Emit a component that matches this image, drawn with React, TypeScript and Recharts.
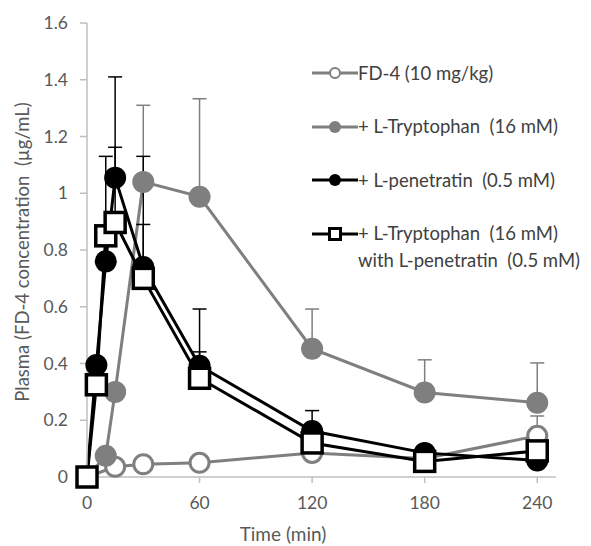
import React from "react";
import { LineChart, Line, XAxis, YAxis, ErrorBar, Label } from "recharts";

// sampling times (min) and plasma FD-4 concentration (µg/mL)
const fd4Time = [0, 15, 30, 60, 120, 180, 240];
const fd4Mean = [0, 0.036, 0.045, 0.05, 0.085, 0.065, 0.145];
const fd4Sd = [0, 0, 0, 0, 0, 0, 0.07];

const trpTime = [0, 10, 15, 30, 60, 120, 180, 240];
const trpMean = [0, 0.075, 0.3, 1.04, 0.988, 0.452, 0.298, 0.262];
const trpSd = [0, 0, 0, 0.27, 0.345, 0.14, 0.115, 0.14];

const penTime = [0, 5, 10, 15, 30, 60, 120, 180, 240];
const penMean = [0, 0.395, 0.76, 1.055, 0.74, 0.392, 0.162, 0.085, 0.058];
const penSd = [0, 0, 0.37, 0.355, 0.39, 0.2, 0.072, 0, 0];

const comboTime = [0, 5, 10, 15, 30, 60, 120, 180, 240];
const comboMean = [0, 0.325, 0.85, 0.897, 0.7, 0.348, 0.12, 0.055, 0.092];
const comboSd = [0, 0, 0, 0.265, 0.19, 0.093, 0, 0, 0];

const xTicks = [0, 60, 120, 180, 240];
const yTicks = [0, 0.2, 0.4, 0.6, 0.8, 1, 1.2, 1.4, 1.6];

const GRAY = "#7f7f7f";
const AXIS = "#bfbfbf";
const TEXT = "#595959";
const FONT = "Lato, 'Open Sans', sans-serif";

const build = (t: number[], m: number[], s: number[]) =>
  t.map((time, i) => ({ time, value: m[i], err: [0, s[i]] }));

const fd4Data = build(fd4Time, fd4Mean, fd4Sd);
const trpData = build(trpTime, trpMean, trpSd);
const penData = build(penTime, penMean, penSd);
const comboData = build(comboTime, comboMean, comboSd);

const legendItems = [
  { key: "fd4", lines: ["FD-4 (10 mg/kg)"] },
  { key: "trp", lines: ["+ L-Tryptophan  (16 mM)"] },
  { key: "pen", lines: ["+ L-penetratin  (0.5 mM)"] },
  { key: "combo", lines: ["+ L-Tryptophan  (16 mM)", "with L-penetratin  (0.5 mM)"] },
];

const LegendIcon = ({ kind }: { kind: string }) => {
  const color = kind === "fd4" || kind === "trp" ? GRAY : "#000";
  return (
    <svg width={46} height={16} style={{ flexShrink: 0 }}>
      <line x1={0} y1={8} x2={46} y2={8} stroke={color} strokeWidth={3} />
      {kind === "fd4" && <circle cx={23} cy={8} r={5} fill="#fff" stroke={GRAY} strokeWidth={2} />}
      {kind === "trp" && <circle cx={23} cy={8} r={6} fill={GRAY} />}
      {kind === "pen" && <circle cx={23} cy={8} r={6} fill="#000" />}
      {kind === "combo" && (
        <rect x={17.5} y={2.5} width={11} height={11} fill="#fff" stroke="#000" strokeWidth={3} />
      )}
    </svg>
  );
};

const ChartLegend = () => (
  <div
    style={{
      position: "absolute",
      left: 312,
      top: 65,
      width: 279,
      fontFamily: FONT,
      fontSize: 18.5,
      color: "#404040",
    }}
  >
    {legendItems.map((it) => (
      <div key={it.key} style={{ display: "flex", alignItems: "flex-start", height: 53.5 }}>
        <LegendIcon kind={it.key} />
        <div style={{ marginLeft: 0, lineHeight: "27px", marginTop: -5.5 }}>
          {it.lines.map((l) => (
            <div key={l} style={{ whiteSpace: "pre" }}>
              {l}
            </div>
          ))}
        </div>
      </div>
    ))}
  </div>
);

const SquareDot = (props: any) => {
  const { cx, cy, index } = props;
  if (cx == null || cy == null) return <g key={`sq-${index}`} />;
  return (
    <rect
      key={`sq-${index}`}
      x={cx - 10}
      y={cy - 10}
      width={20}
      height={20}
      fill="#fff"
      stroke="#000"
      strokeWidth={3.5}
    />
  );
};

export default function App() {
  return (
    <div style={{ position: "relative", width: 591, height: 546, background: "#fff" }}>
      <style>{`body{margin:0}`}</style>
      <LineChart width={591} height={546} margin={{ top: 23, right: 35, left: 27, bottom: 19 }}>
        <XAxis
          type="number"
          dataKey="time"
          domain={[0, 250]}
          ticks={xTicks}
          allowDuplicatedCategory={false}
          stroke={AXIS}
          strokeWidth={1.5}
          tickSize={6}
          tickMargin={14}
          height={50}
          tick={{ fill: TEXT, fontSize: 17.5, fontFamily: FONT }}
        >
          <Label
            content={() => (
              <text x={283} y={541} textAnchor="middle" fill={TEXT} fontSize={19} fontFamily={FONT}>
                Time (min)
              </text>
            )}
          />
        </XAxis>
        <YAxis
          type="number"
          domain={[0, 1.6]}
          ticks={yTicks}
          stroke={AXIS}
          strokeWidth={1.5}
          tickSize={7}
          tickMargin={12}
          width={60}
          tick={{ fill: TEXT, fontSize: 17.5, fontFamily: FONT }}
        >
          <Label
            content={() => (
              <text
                x={22}
                y={252}
                transform="rotate(-90 22 252)"
                textAnchor="middle"
                dominantBaseline="central"
                fill={TEXT}
                fontSize={18.5}
                fontFamily={FONT}
                style={{ whiteSpace: "pre" }}
              >
                Plasma (FD-4 concentration  (µg/mL)
              </text>
            )}
          />
        </YAxis>
        <Line
          data={fd4Data}
          dataKey="value"
          stroke={GRAY}
          strokeWidth={3}
          isAnimationActive={false}
          dot={{ r: 9.5, fill: "#fff", stroke: GRAY, strokeWidth: 3 }}
        >
          <ErrorBar dataKey="err" width={7} stroke={GRAY} strokeWidth={1.5} direction="y" />
        </Line>
        <Line
          data={trpData}
          dataKey="value"
          stroke={GRAY}
          strokeWidth={3}
          isAnimationActive={false}
          dot={{ r: 11, fill: GRAY, stroke: "none" }}
        >
          <ErrorBar dataKey="err" width={7} stroke={GRAY} strokeWidth={1.5} direction="y" />
        </Line>
        <Line
          data={penData}
          dataKey="value"
          stroke="#000"
          strokeWidth={3}
          isAnimationActive={false}
          dot={{ r: 11, fill: "#000", stroke: "none" }}
        >
          <ErrorBar dataKey="err" width={7} stroke="#000" strokeWidth={1.5} direction="y" />
        </Line>
        <Line
          data={comboData}
          dataKey="value"
          stroke="#000"
          strokeWidth={3}
          isAnimationActive={false}
          dot={SquareDot}
        >
          <ErrorBar dataKey="err" width={7} stroke="#000" strokeWidth={1.5} direction="y" />
        </Line>
      </LineChart>
      <ChartLegend />
    </div>
  );
}
